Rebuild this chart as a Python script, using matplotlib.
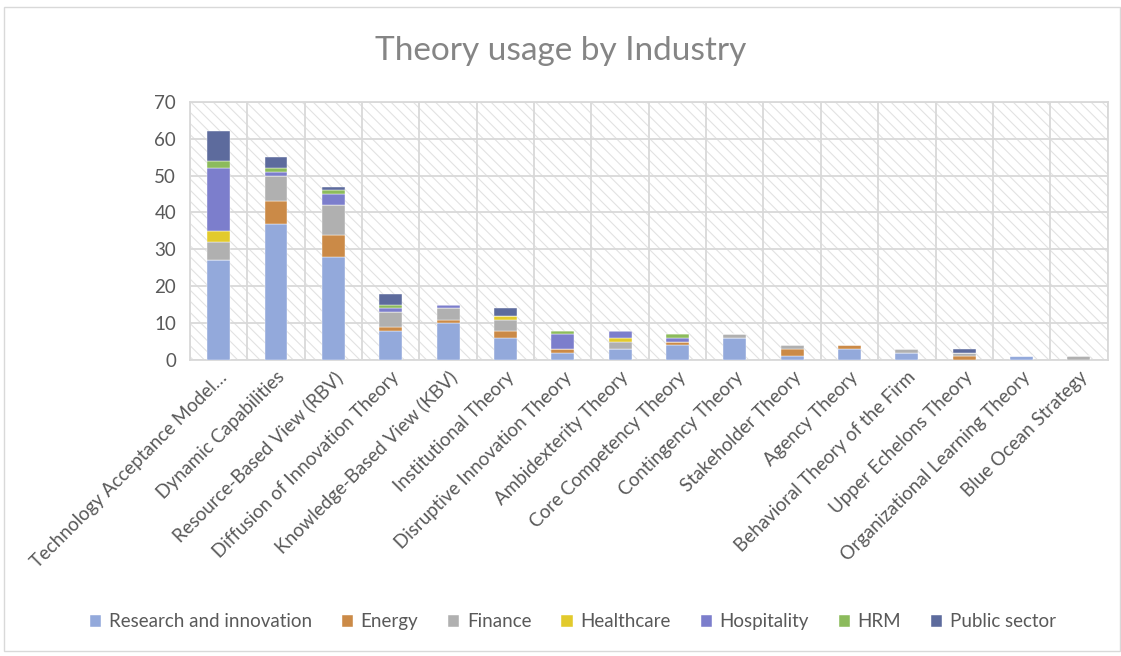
import matplotlib.pyplot as plt
import numpy as np
from matplotlib.patches import Rectangle

theories = [
    "Technology Acceptance Model…", "Dynamic Capabilities", "Resource-Based View (RBV)",
    "Diffusion of Innovation Theory", "Knowledge-Based View (KBV)", "Institutional Theory",
    "Disruptive Innovation Theory", "Ambidexterity Theory", "Core Competency Theory",
    "Contingency Theory", "Stakeholder Theory", "Agency Theory",
    "Behavioral Theory of the Firm", "Upper Echelons Theory",
    "Organizational Learning Theory", "Blue Ocean Strategy",
]
research = [27, 37, 28, 8, 10, 6, 2, 3, 4, 6, 1, 3, 2, 0, 1, 0]
energy = [0, 6, 6, 1, 1, 2, 1, 0, 1, 0, 2, 1, 0, 1, 0, 0]
finance = [5, 7, 8, 4, 3, 3, 0, 2, 0, 1, 1, 0, 1, 1, 0, 1]
healthcare = [3, 0, 0, 0, 0, 1, 0, 1, 0, 0, 0, 0, 0, 0, 0, 0]
hospitality = [17, 1, 3, 1, 1, 0, 4, 2, 1, 0, 0, 0, 0, 0, 0, 0]
hrm = [2, 1, 1, 1, 0, 0, 1, 0, 1, 0, 0, 0, 0, 0, 0, 0]
public = [8, 3, 1, 3, 0, 2, 0, 0, 0, 0, 0, 0, 0, 1, 0, 0]

series = [
    ("Research and innovation", research, "#93a9db"),
    ("Energy", energy, "#cb8a47"),
    ("Finance", finance, "#b0b0b0"),
    ("Healthcare", healthcare, "#e2ca2c"),
    ("Hospitality", hospitality, "#7c7ecc"),
    ("HRM", hrm, "#8cbb5c"),
    ("Public sector", public, "#5d6b9d"),
]

GRID = "#d9d9d9"
TEXT = "#595959"
plt.rcParams["font.family"] = ["Lato", "DejaVu Sans"]
plt.rcParams["hatch.color"] = "#e2e2e2"
plt.rcParams["hatch.linewidth"] = 0.8

fig = plt.figure(figsize=(11.21, 6.56), dpi=100)
fig.patches.append(Rectangle((0.004, 0.008), 0.995, 0.981, transform=fig.transFigure,
                             fill=False, edgecolor="#d9d9d9", linewidth=1.0))
ax = fig.add_axes([0.1695, 0.451, 0.8185, 0.394])

n = len(theories)
x = np.arange(n)
ax.set_xlim(-0.5, n - 0.5)
ax.set_ylim(0, 70)

# hatched plot area
ax.add_patch(Rectangle((0, 0), 1, 1, transform=ax.transAxes, facecolor="white",
                       hatch="\\\\\\", edgecolor="#e2e2e2", linewidth=0, zorder=0))

bottom = np.zeros(n)
for name, vals, col in series:
    v = np.array(vals, dtype=float)
    ax.bar(x, v, 0.4, bottom=bottom, color=col, label=name, zorder=3,
           edgecolor="white", linewidth=0.3)
    bottom += v

ax.set_yticks(np.arange(0, 71, 10))
ax.set_xticks(x)
ax.set_xticklabels(theories, rotation=45, ha="right", rotation_mode="anchor",
                   fontsize=13.5, color=TEXT)
ax.set_xticks(np.arange(-0.5, n, 1), minor=True)
ax.tick_params(axis="y", labelsize=13.5, colors=TEXT, length=0, pad=10)
ax.tick_params(axis="x", which="both", length=0, pad=6)
ax.grid(axis="y", which="major", color=GRID, linewidth=1.3, zorder=1)
ax.grid(axis="x", which="minor", color=GRID, linewidth=1.3, zorder=1)
ax.grid(axis="x", which="major", visible=False)
ax.set_axisbelow(True)
for s in ax.spines.values():
    s.set_color(GRID)
    s.set_linewidth(1.3)

fig.text(0.5, 0.922, "Theory usage by Industry", ha="center", va="center",
         fontsize=24, color="#858585")

fig.legend(loc="center", bbox_to_anchor=(0.511, 0.052), ncol=7, frameon=False,
           fontsize=13.5, handlelength=0.6, handleheight=0.6, handletextpad=0.4,
           columnspacing=1.6, labelcolor=TEXT)

fig.savefig("out.png", dpi=100)
